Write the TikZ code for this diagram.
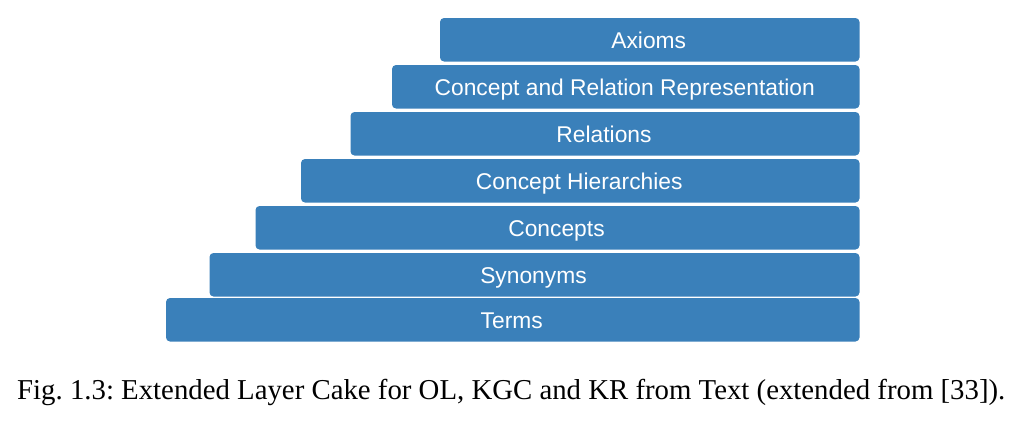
\documentclass[tikz,border=0pt]{standalone}
\usepackage{fontspec}
\setmainfont{Liberation Serif}
\newfontfamily\barfont{Liberation Sans}
\definecolor{barblue}{RGB}{58,128,186}
\begin{document}
\frenchspacing
\begin{tikzpicture}[x=1pt,y=-1pt,
  layer/.style={fill=barblue, draw=none, rounded corners=4pt},
  layertext/.style={text=white, font=\barfont\fontsize{22.8}{26}\selectfont, inner sep=0pt, anchor=base},
  caption/.style={font=\fontsize{28.8}{33}\selectfont, inner sep=0pt, anchor=base west}]
\useasboundingbox (0,0) rectangle (1026,423);
\def\R{859.5}
\foreach \name/\l/\t/\txt in {
  axioms/440/18/Axioms,
  carr/392/65/Concept and Relation Representation,
  rel/350.5/112/Relations,
  hier/301/159/Concept Hierarchies,
  conc/255.5/206/Concepts,
  syn/209.5/253/Synonyms,
  terms/166/298/Terms}{
  \path[layer] (\l,\t) rectangle ++(\R-\l,43.5);
  \node[layertext] (\name) at ({(\l+\R)/2-1},{\t+30}) {\txt};
}
\node[caption] (cap) at (17,399.3) {Fig. 1.3: Extended Layer Cake for OL, KGC and KR from Text (extended from [33]).};
\end{tikzpicture}
\end{document}
